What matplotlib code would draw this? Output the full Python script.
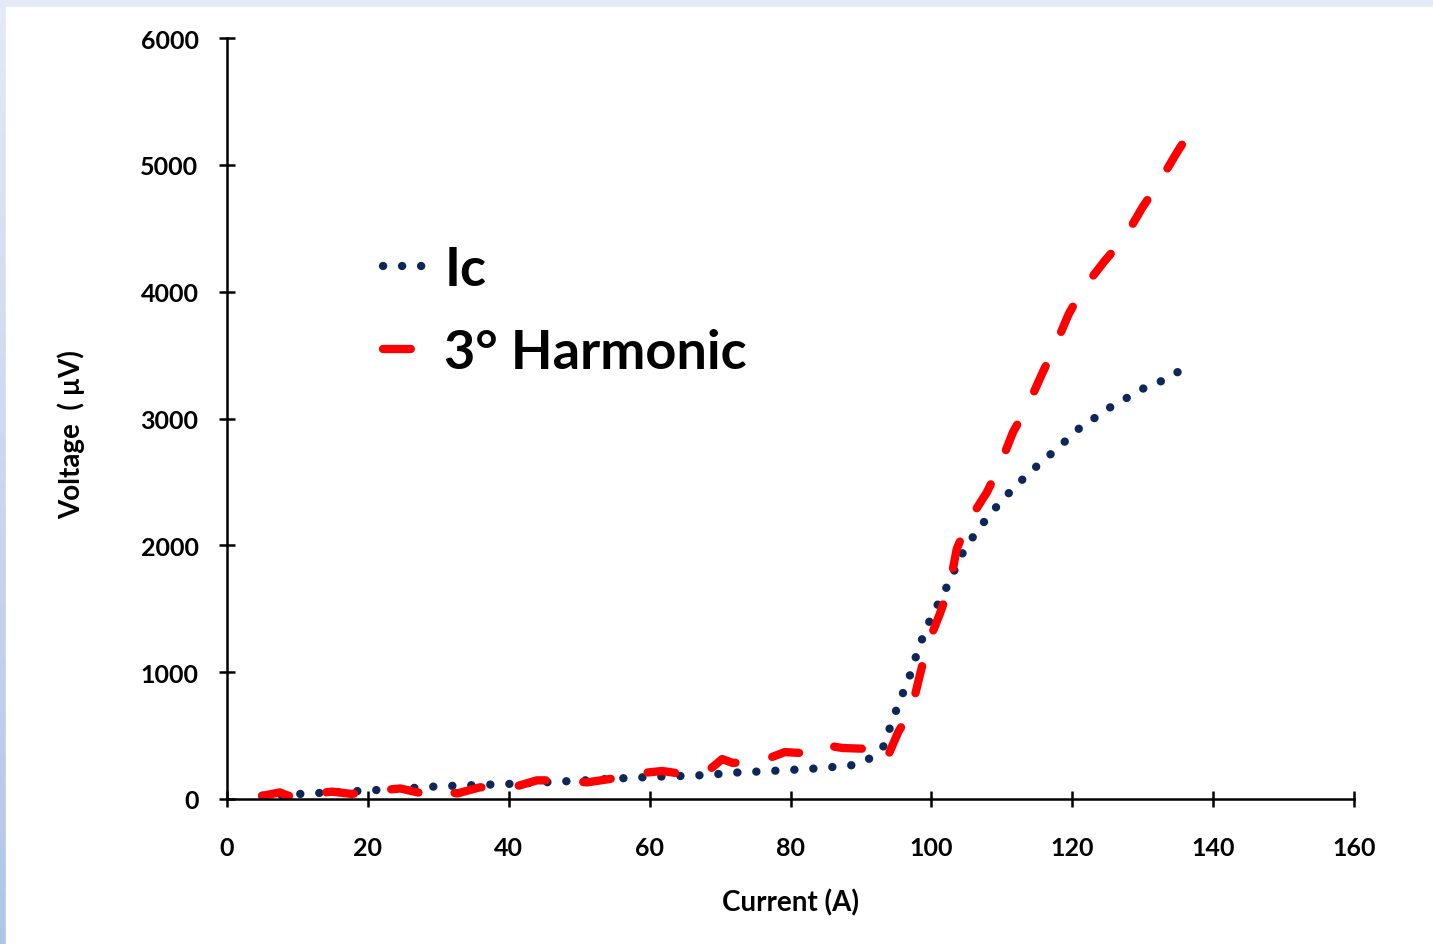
import matplotlib.pyplot as plt
import numpy as np
from matplotlib.patches import Rectangle

plt.rcParams['font.family'] = ['Lato', 'DejaVu Sans']
plt.rcParams['font.weight'] = 'bold'
plt.rcParams['axes.labelweight'] = 'bold'
plt.rcParams['lines.scale_dashes'] = False

# critical current measurement (dotted)
current_ic = [5, 10, 17, 24, 30, 37, 42, 47, 52, 54, 61, 66, 69, 71, 74, 79, 84, 89,
              91.4, 93.4, 93.8, 94.6, 95.5, 96.5, 97.4, 98.1, 99.1, 100.1, 101.4, 102.6,
              103.6, 104.8, 106.3, 107.9, 109.7, 111.4, 113.3, 115.3, 117.3, 119.2,
              121.2, 123.4, 125.7, 128.0, 130.2, 132.7, 135.0]
voltage_ic = [26, 39, 58, 79, 100, 113, 123, 137, 150, 158, 176, 184, 192, 205, 213, 226, 242, 268,
              323, 426, 512, 639, 773, 907, 1041, 1183, 1317, 1451, 1585, 1719,
              1845, 1979, 2097, 2216, 2334, 2436, 2539, 2641, 2736, 2831,
              2933, 3012, 3100, 3170, 3240, 3296, 3367]

# third harmonic signal (dashed)
current_h3 = [5, 7.5, 8.7, 12, 14.9, 17.7, 21.3, 24.6, 27.7, 29.1, 32.7, 35.9, 40.6, 44, 48.3,
              51.1, 54.4, 57.6, 61.8, 64.7, 68.6, 70.3, 71.8, 75.9, 79.2, 83.8, 85.6, 87.4,
              91.6, 92.7, 93.7, 95.3, 97.2, 98.4, 99.4, 101.2, 102.6, 103.6, 105.2, 107.9,
              109.7, 111.6, 113.6, 115.7, 117.5, 119.5, 121.5, 124.6, 127.5, 130.0, 132.2,
              134.9, 136.0]
voltage_h3 = [25, 52, 25, 40, 58, 40, 66, 83, 44, 79, 44, 92, 92, 147, 147,
              131, 158, 197, 221, 197, 236, 315, 284, 300, 370, 355, 418, 402,
              394, 410, 323, 528, 710, 985, 1208, 1459, 1681, 1971, 2184, 2420,
              2626, 2894, 3091, 3351, 3564, 3824, 4021, 4242, 4431, 4668, 4849,
              5101, 5196]

fig = plt.figure(figsize=(14.33, 9.45), dpi=100)

# pale blue frame with a gradient down the left edge
bg = fig.add_axes([0, 0, 1, 1], zorder=-10)
top = np.array([228, 234, 246]) / 255
bottom = np.array([178, 197, 232]) / 255
t = np.linspace(0, 1, 256).reshape(-1, 1, 1)
bg.imshow(top * (1 - t) + bottom * t, extent=[0, 1, 0, 1], aspect='auto')
bg.add_patch(Rectangle((6 / 1433, 0), 1, 1 - 8 / 945, color='white'))
bg.set_xlim(0, 1)
bg.set_ylim(0, 1)
bg.axis('off')

ax = fig.add_axes([227 / 1433, 145 / 945, 1127 / 1433, 761 / 945])
ax.set_facecolor('none')

ax.plot(current_ic, voltage_ic, color='#0C2758', lw=6,
        linestyle=(0, (0.1, 13.6)), dash_capstyle='round', label='Ic')
ax.plot(current_h3, voltage_h3, color='#FF0000', lw=6,
        linestyle=(0, (20, 27)), dash_capstyle='round', label='3° Harmonic')

ax.set_xlim(0, 160)
ax.set_ylim(0, 6000)
ax.set_xticks(np.arange(0, 161, 20))
ax.set_yticks(np.arange(0, 6001, 1000))

for side in ['top', 'right']:
    ax.spines[side].set_visible(False)
for side in ['left', 'bottom']:
    ax.spines[side].set_linewidth(1.8)

ax.tick_params(direction='inout', length=12, width=1.8, labelsize=18)
ax.tick_params(axis='y', pad=14.5)
ax.tick_params(axis='x', pad=20.5)

ax.set_xlabel('Current (A)', fontsize=20)
ax.set_ylabel('Voltage  ( µV)', fontsize=20)
ax.xaxis.set_label_coords(0.5, -0.118)
ax.yaxis.set_label_coords(-0.126, 0.48)

ax.legend(loc='upper left', bbox_to_anchor=(0.138, 0.728), frameon=False,
          fontsize=39, handlelength=0.72, handletextpad=0.42, labelspacing=0.62,
          borderpad=0, borderaxespad=0)

plt.savefig('out.png', dpi=100)
